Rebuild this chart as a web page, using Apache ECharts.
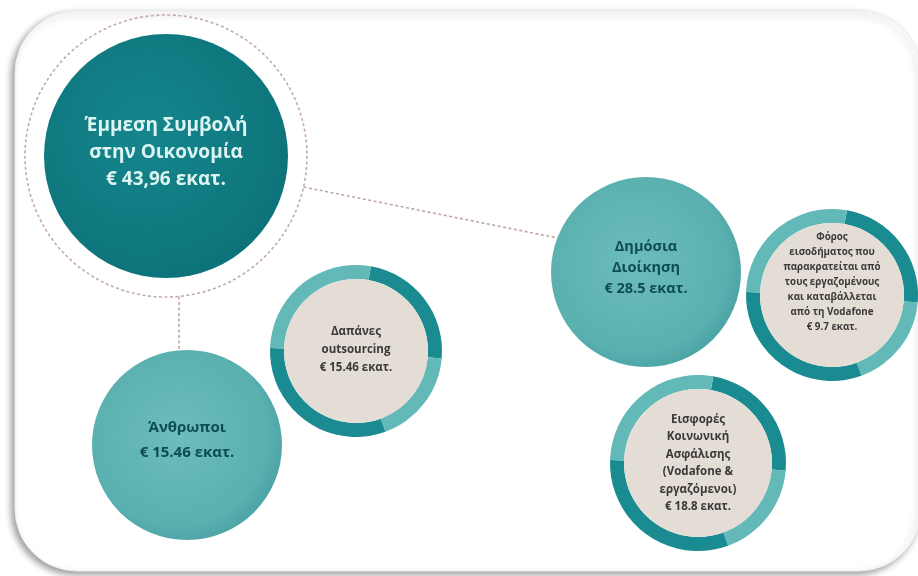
<!DOCTYPE html>
<html>
<head>
<meta charset="utf-8">
<script src="https://cdn.jsdelivr.net/npm/echarts@6/dist/echarts.min.js"></script>
<style>
  html, body { margin: 0; padding: 0; background: #ffffff; }
  #chart { width: 918px; height: 576px; }
</style>
</head>
<body>
<div id="chart"></div>
<script>
// values (millions of euro)
const nodeNames = [
  ['Έμμεση Συμβολή', 'στην Οικονομία'],
  ['Δημόσια', 'Διοίκηση'],
  ['Άνθρωποι'],
  ['Δαπάνες', 'outsourcing'],
  ['Φόρος', 'εισοδήματος που', 'παρακρατείται από', 'τους εργαζομένους', 'και καταβάλλεται', 'από τη Vodafone'],
  ['Εισφορές', 'Κοινωνική', 'Ασφάλισης', '(Vodafone &', 'εργαζόμενοι)']
];
const nodeValues = [43.96, 28.5, 15.46, 15.46, 9.7, 18.8];
const decimalSep = [',', '.', '.', '.', '.', '.'];
const unit = 'εκατ.';
const links = [[0, 1], [0, 2]];

// layout (pixels of the 918x576 canvas)
const nodeLayout = [
  { x: 166, y: 156, r: 122, kind: 'main',  dy: -3,  font: 19,   lh: 27 },
  { x: 646, y: 272, r: 95,  kind: 'solid', dy: -4,  font: 14.5, lh: 21 },
  { x: 187, y: 445, r: 95,  kind: 'solid', dy: -5,  font: 15,   lh: 25 },
  { x: 356, y: 351, r: 86,  kind: 'ring',  dy: -1,  font: 11.5, lh: 18 },
  { x: 832, y: 295, r: 86,  kind: 'ring',  dy: -13, font: 9.8,  lh: 15 },
  { x: 698, y: 463, r: 88,  kind: 'ring',  dy: 0,   font: 11.5, lh: 17.5 }
];
const mainRingR = 141;
const ringWidth = 14;
const linkAngles = [[12.7, 201], [85, 265]];
const ringArcs = [[10, 95, 'dark'], [95, 160, 'light'], [160, 272, 'dark'], [272, 370, 'light']];

function valueText(i) {
  return '€ ' + String(nodeValues[i]).replace('.', decimalSep[i]) + ' ' + unit;
}

function edgePoint(i, angle, useRing) {
  const n = nodeLayout[i];
  const r = useRing ? mainRingR : n.r;
  const a = angle * Math.PI / 180;
  return [n.x + r * Math.cos(a), n.y + r * Math.sin(a)];
}

const linkData = links.map(function (l, k) {
  return { coords: [edgePoint(l[0], linkAngles[k][0], true), edgePoint(l[1], linkAngles[k][1], false)] };
});

const chart = echarts.init(document.getElementById('chart'));

function renderNode(params, api) {
  const i = api.value(3);
  const n = nodeLayout[i];
  const c = api.coord([api.value(0), api.value(1)]);
  const r = api.size([api.value(2), 0])[0];
  const children = [];

  if (n.kind === 'main') {
    children.push({
      type: 'circle',
      shape: { cx: c[0], cy: c[1], r: api.size([mainRingR, 0])[0] },
      style: { fill: 'none', stroke: '#c6a9a9', lineWidth: 1.6, lineDash: [3, 2.5] }
    });
    children.push({
      type: 'circle',
      shape: { cx: c[0], cy: c[1], r: r },
      style: {
        fill: new echarts.graphic.RadialGradient(0.42, 0.4, 0.65, [
          { offset: 0, color: '#15868d' },
          { offset: 1, color: '#0d7279' }
        ])
      }
    });
  } else if (n.kind === 'solid') {
    children.push({
      type: 'circle',
      shape: { cx: c[0], cy: c[1], r: r },
      style: {
        fill: new echarts.graphic.RadialGradient(0.45, 0.45, 0.6, [
          { offset: 0, color: '#6cbdbc' },
          { offset: 0.8, color: '#5aafaf' },
          { offset: 1, color: '#46a0a2' }
        ])
      }
    });
  } else {
    ringArcs.forEach(function (a) {
      children.push({
        type: 'sector',
        shape: {
          cx: c[0], cy: c[1], r: r, r0: r - ringWidth,
          startAngle: (a[0] - 90) * Math.PI / 180,
          endAngle: (a[1] - 90) * Math.PI / 180,
          clockwise: true
        },
        style: { fill: a[2] === 'dark' ? '#1a8c91' : '#63b9b8' }
      });
    });
    children.push({
      type: 'circle',
      shape: { cx: c[0], cy: c[1], r: r - ringWidth },
      style: { fill: '#e3ddd5' }
    });
  }

  const lines = nodeNames[i].concat([valueText(i)]);
  children.push({
    type: 'text',
    style: {
      text: lines.join('\n'),
      x: c[0],
      y: c[1] + n.dy,
      align: 'center',
      verticalAlign: 'middle',
      fontFamily: 'Open Sans',
      fontWeight: 'bold',
      fontSize: n.font,
      lineHeight: n.lh,
      fill: n.kind === 'main' ? '#dcf5f3' : (n.kind === 'solid' ? '#0d4c52' : '#3a3a3a')
    }
  });
  return { type: 'group', children: children };
}

chart.setOption({
  animation: false,
  graphic: [{
    type: 'rect',
    z: -10,
    shape: { x: 15, y: 11, width: 906, height: 560, r: 62 },
    style: {
      fill: '#ffffff',
      stroke: '#eeeeee',
      lineWidth: 1,
      shadowBlur: 7,
      shadowColor: 'rgba(0,0,0,0.4)',
      shadowOffsetX: -3,
      shadowOffsetY: 3
    }
  }],
  grid: { left: 0, right: 0, top: 0, bottom: 0 },
  xAxis: { type: 'value', min: 0, max: 918, show: false },
  yAxis: { type: 'value', min: 0, max: 576, inverse: true, show: false },
  series: [
    {
      type: 'lines',
      coordinateSystem: 'cartesian2d',
      z: 1,
      silent: true,
      lineStyle: { color: '#bfa6a6', width: 1.6, type: [3, 2.5], opacity: 1 },
      data: linkData
    },
    {
      type: 'custom',
      z: 3,
      renderItem: renderNode,
      data: nodeLayout.map(function (n, i) { return [n.x, n.y, n.r, i, nodeValues[i]]; })
    }
  ]
});
</script>
</body>
</html>
